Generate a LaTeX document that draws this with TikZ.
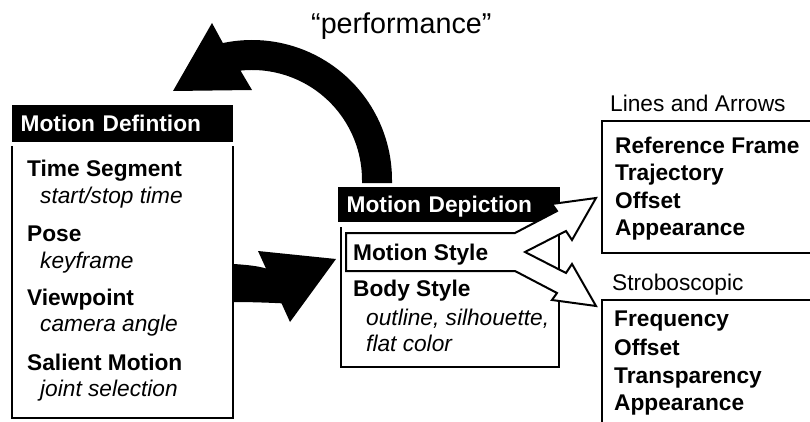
\documentclass[tikz,border=0pt]{standalone}
\usepackage{fontspec}
\setmainfont{Liberation Sans}
\usetikzlibrary{positioning}
\newcommand{\itemsize}{\fontsize{22.7}{27}\selectfont}

\begin{document}
\begin{tikzpicture}[x=1pt, y=-1pt,
    boxline/.style={line width=2pt, line join=miter},
    headbar/.style={fill=black, text=white, font=\itemsize\bfseries, anchor=north west,
      inner xsep=8.5pt, inner ysep=0pt, minimum height=#1, align=left,
      text height=16.5pt, text depth=0pt},
    lbl/.style={anchor=base west, inner sep=0pt, font=\itemsize\bfseries},
    note/.style={anchor=base west, inner sep=0pt, font=\itemsize\itshape},
    title/.style={anchor=base west, inner sep=0pt, font=\itemsize}]
  \useasboundingbox (0,0) rectangle (810,422);

  % motion definition
  \draw[boxline] (12,146) -- (12,418) -- (233,418) -- (233,146);
  \node[headbar=37pt, text width=204pt] (defhead) at (12,105) {Motion Defintion};
  \node[lbl]  (tseg)  at (27,176.7) {Time Segment};
  \node[note] (tsegd) at (40,203.3) {start/stop time};
  \node[lbl]  (pose)  at (27,241.7) {Pose};
  \node[note] (posed) at (40,268.3) {keyframe};
  \node[lbl]  (view)  at (27,305)   {Viewpoint};
  \node[note] (viewd) at (40,331.7) {camera angle};
  \node[lbl]  (sal)   at (27,370)   {Salient Motion};
  \node[note] (sald)  at (40,396.7) {joint selection};

  % motion depiction
  \draw[boxline] (341,227) -- (341,367) -- (559,367) -- (559,227);
  \node[headbar=35pt, text width=205pt] (dephead) at (338,187) {Motion Depiction};
  \draw[boxline, fill=white] (346,233) -- (515,233) -- (557,211) -- (552,204)
    -- (596,198) -- (572,240) -- (566,231) -- (525,252) -- (566,273)
    -- (572,264) -- (596,306) -- (552,300) -- (557,293) -- (515,271)
    -- (346,271) -- cycle;
  \node[lbl]  (mstyle) at (353,260.7) {Motion Style};
  \node[lbl]  (bstyle) at (353,296.7) {Body Style};
  \node[note] (bstyd)  at (366,325)   {outline, silhouette,};
  \node[note] (bstye)  at (366,351.7) {flat color};

  % big black arrows
  \fill (392,183) -- (392,180) arc[start angle=0, end angle=-102, radius=140]
    -- (212,23) -- (173,91) -- (252,90) -- (240.5,70.6)
    arc[start angle=-96, end angle=0, radius=110] -- (362,183) -- cycle;
  \fill (234,264) .. controls (248,265) and (258,266) .. (266,268.5)
    -- (258,251) -- (336,259) -- (290,322) -- (281.5,303.3)
    .. controls (265,302.5) and (248,302) .. (234,302) -- cycle;
  \node[anchor=base west, inner sep=0pt, font=\fontsize{28.7}{34}\selectfont]
    (perf) at (311,33.3) {“performance”};

  % lines and arrows
  \node[title] (linesttl) at (610,111.7) {Lines and Arrows};
  \draw[boxline] (811,121) -- (602,121) -- (602,253) -- (811,253);
  \node[lbl] (refr)  at (615,153.3) {Reference Frame};
  \node[lbl] (traj)  at (615,180)   {Trajectory};
  \node[lbl] (offa)  at (615,208.3) {Offset};
  \node[lbl] (appa)  at (615,235)   {Appearance};

  % stroboscopic
  \node[title] (strobttl) at (612,290) {Stroboscopic};
  \draw[boxline] (811,300) -- (602,300) -- (602,423);
  \node[lbl] (freq)  at (614,326.7) {Frequency};
  \node[lbl] (offs)  at (614,355)   {Offset};
  \node[lbl] (trans) at (614,383.3) {Transparency};
  \node[lbl] (apps)  at (614,410)   {Appearance};
\end{tikzpicture}
\end{document}
